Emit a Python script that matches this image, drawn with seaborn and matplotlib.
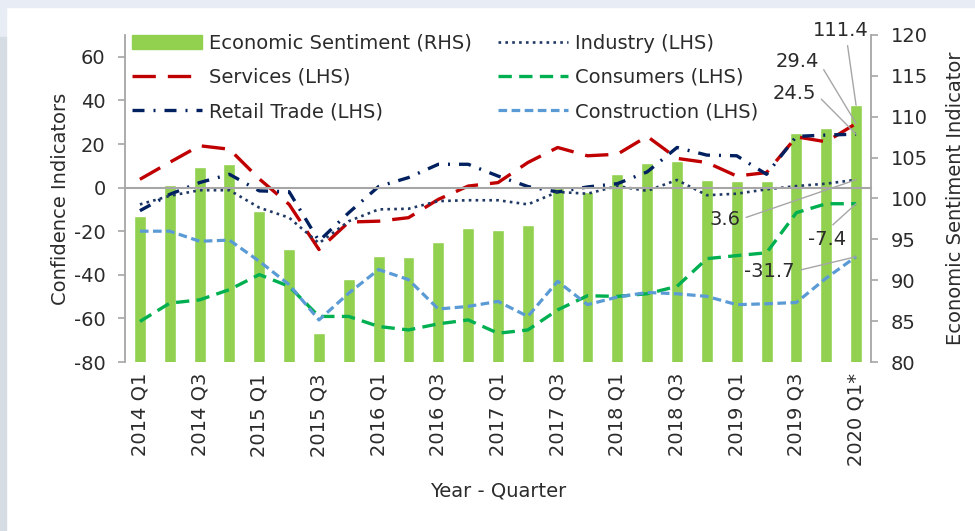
import numpy as np
import matplotlib
matplotlib.use("Agg")
import matplotlib.pyplot as plt
import seaborn as sns
from matplotlib.patches import Rectangle, Patch

# quarters shown on the x axis
quarters = ["2014 Q1", "2014 Q2", "2014 Q3", "2014 Q4",
            "2015 Q1", "2015 Q2", "2015 Q3", "2015 Q4",
            "2016 Q1", "2016 Q2", "2016 Q3", "2016 Q4",
            "2017 Q1", "2017 Q2", "2017 Q3", "2017 Q4",
            "2018 Q1", "2018 Q2", "2018 Q3", "2018 Q4",
            "2019 Q1", "2019 Q2", "2019 Q3", "2019 Q4",
            "2020 Q1*"]

# economic sentiment indicator (RHS)
esi = [97.8, 101.6, 103.9, 104.2, 98.5, 93.8, 83.6, 90.2, 93.0, 92.9,
       94.7, 96.4, 96.2, 96.7, 101.3, 100.8, 103.0, 104.3, 104.6, 102.3,
       102.2, 102.1, 108.0, 108.6, 111.4]

# confidence indicators (LHS)
industry = [-7.7, -3.8, -1.2, -1.2, -9.2, -13.8, -25.5, -15.4, -10.0, -9.7,
            -6.2, -5.8, -5.8, -7.7, -2.0, -2.8, 0.7, -1.5, 3.5, -3.5,
            -2.8, -0.8, 0.7, 1.8, 3.6]
services = [3.8, 11.6, 19.2, 17.6, 4.0, -7.7, -28.4, -15.8, -15.4, -13.8,
            -5.4, 0.7, 2.3, 11.5, 18.4, 14.6, 15.3, 23.5, 13.4, 11.5,
            5.3, 6.9, 23.3, 21.0, 29.4]
retail = [-10.6, -3.1, 2.3, 6.1, -1.5, -1.9, -24.5, -11.5, 0.5, 4.6,
          10.7, 10.7, 5.3, 0.5, -2.0, 0.3, 1.8, 7.2, 18.4, 14.9,
          14.6, 6.1, 23.5, 24.1, 24.5]
consumers = [-61.4, -53.0, -51.5, -46.8, -39.9, -45.3, -59.1, -59.1, -63.7, -65.3,
             -62.5, -60.7, -66.8, -65.3, -56.1, -49.6, -49.9, -48.7, -45.3, -32.6,
             -31.2, -29.9, -11.5, -7.4, -7.4]
construction = [-20.0, -20.0, -24.6, -24.1, -33.8, -44.5, -60.7, -48.4, -37.6, -42.2,
                -55.7, -54.5, -52.2, -59.1, -43.0, -53.7, -50.2, -48.1, -48.7, -49.9,
                -53.7, -53.3, -52.7, -41.5, -31.7]

sns.set_style("white")
plt.rcParams["font.family"] = ["DejaVu Sans"]
plt.rcParams["axes.unicode_minus"] = False

TEXT = "#2b2b2b"
GRID = "#a6a6a6"
FS = 14
pos = np.arange(len(quarters))

fig = plt.figure(figsize=(9.75, 5.31), dpi=100)
# page background strips
fig.patches.append(Rectangle((0, 1 - 7 / 531), 1, 7 / 531, transform=fig.transFigure,
                             color="#e8edf5", zorder=0))
fig.patches.append(Rectangle((0, 1 - 37 / 531), 6 / 975, 30 / 531, transform=fig.transFigure,
                             color="#e8edf5", zorder=0))
fig.patches.append(Rectangle((0, 0), 6 / 975, 1 - 37 / 531, transform=fig.transFigure,
                             color="#d5dce4", zorder=0))

ax = fig.add_axes([125 / 975, 1 - 362 / 531, 746 / 975, 327 / 531])
ax2 = ax.twinx()

# bars on the right axis
sns.barplot(x=pos, y=esi, ax=ax2, native_scale=True, color="#92d050",
            width=0.4, saturation=1, errorbar=None)

# lines on the left axis
series = [
    ("Services (LHS)", services, "#c00000", 2.4, (0, (7, 3.6))),
    ("Retail Trade (LHS)", retail, "#002060", 2.4, (0, (3.6, 2.7, 0.6, 2.7))),
    ("Industry (LHS)", industry, "#1f3864", 1.9, (0, (1, 1.6))),
    ("Consumers (LHS)", consumers, "#00b050", 2.4, (0, (4, 2.2))),
    ("Construction (LHS)", construction, "#5b9bd5", 2.3, (0, (2.7, 1.4))),
]
handles = {}
for name, vals, col, lw, ls in series:
    sns.lineplot(x=pos, y=vals, ax=ax, color=col, linewidth=lw, linestyle=ls, label=name)
    handles[name] = ax.get_lines()[-1]

ax.set_zorder(2)
ax2.set_zorder(1)
ax.patch.set_visible(False)

ax.set_xlim(-0.5, len(quarters) - 0.5)
ax.set_ylim(-80, 70)
ax2.set_ylim(80, 120)
ax.set_yticks(range(-80, 61, 20))
ax2.set_yticks(range(80, 121, 5))

# category ticks
ax.set_xticks(pos[::2])
ax.set_xticklabels(quarters[::2])
ax.set_xticks(pos[:-1] + 0.5, minor=True)

for s in ["top", "right"]:
    ax.spines[s].set_visible(False)
ax.spines["left"].set_color(GRID)
ax.spines["left"].set_linewidth(1.3)
ax.spines["bottom"].set_position(("data", 0))
ax.spines["bottom"].set_color(GRID)
ax.spines["bottom"].set_linewidth(1.5)
for s in ["top", "left", "bottom"]:
    ax2.spines[s].set_visible(False)
ax2.spines["right"].set_color(GRID)
ax2.spines["right"].set_linewidth(1.3)

ax.tick_params(axis="x", which="major", length=0, labelbottom=False)
ax.tick_params(axis="x", which="minor", direction="out", length=5, width=1.2, color=GRID)
ax.tick_params(axis="y", direction="out", length=5, width=1.2, color=GRID, pad=9,
               labelsize=FS, labelcolor=TEXT, left=True)
ax2.xaxis.set_visible(True)
ax2.tick_params(axis="x", which="both", length=0, labelbottom=True, labelsize=FS,
                labelcolor=TEXT, labelrotation=90, pad=8)
ax2.tick_params(axis="y", direction="out", length=5, width=1.2, color=GRID, pad=9,
                labelsize=FS, labelcolor=TEXT, right=True)

ax.set_xlabel("")
ax2.set_xlabel("Year - Quarter", fontsize=FS, color=TEXT, labelpad=11)
ax.set_ylabel("Confidence Indicators", fontsize=FS, color=TEXT, labelpad=3)
ax2.set_ylabel("Economic Sentiment Indicator", fontsize=FS, color=TEXT, labelpad=13)

# legend
leg_handles = [Patch(color="#92d050"), handles["Services (LHS)"], handles["Retail Trade (LHS)"],
               handles["Industry (LHS)"], handles["Consumers (LHS)"], handles["Construction (LHS)"]]
leg_labels = ["Economic Sentiment (RHS)", "Services (LHS)", "Retail Trade (LHS)",
              "Industry (LHS)", "Consumers (LHS)", "Construction (LHS)"]
ax.legend(leg_handles, leg_labels, ncol=2, loc="upper left", bbox_to_anchor=(0.01, 1.004),
          frameon=False, fontsize=FS, handlelength=3.6, handletextpad=0.36,
          columnspacing=1.3, labelspacing=0.78, borderaxespad=0, borderpad=0,
          labelcolor=TEXT)

# data labels for the last quarter
last = len(quarters) - 1
arrow = dict(arrowstyle="-", color=GRID, lw=1, shrinkA=2, shrinkB=0)
ax2.annotate(f"{esi[-1]:.1f}", xy=(last, esi[-1]), xytext=(23.5, 120.6),
             ha="center", va="center", fontsize=FS, color=TEXT, annotation_clip=False,
             arrowprops=dict(arrow, relpos=(0.6, 0)))
labels = [
    (services[-1], (22.03, 57.7), (1, 0.5)),
    (retail[-1], (21.93, 43.0), (1, 0.5)),
    (industry[-1], (19.6, -14.6), (1, 0.5)),
    (consumers[-1], (23.03, -23.8), (0.5, 1)),
    (construction[-1], (21.1, -38.4), (1, 0.5)),
]
for val, txt_xy, rp in labels:
    ax.annotate(f"{val:.1f}", xy=(last, val), xytext=txt_xy, ha="center", va="center",
                fontsize=FS, color=TEXT, annotation_clip=False,
                arrowprops=dict(arrow, relpos=rp))

fig.savefig("out.png", dpi=100)
